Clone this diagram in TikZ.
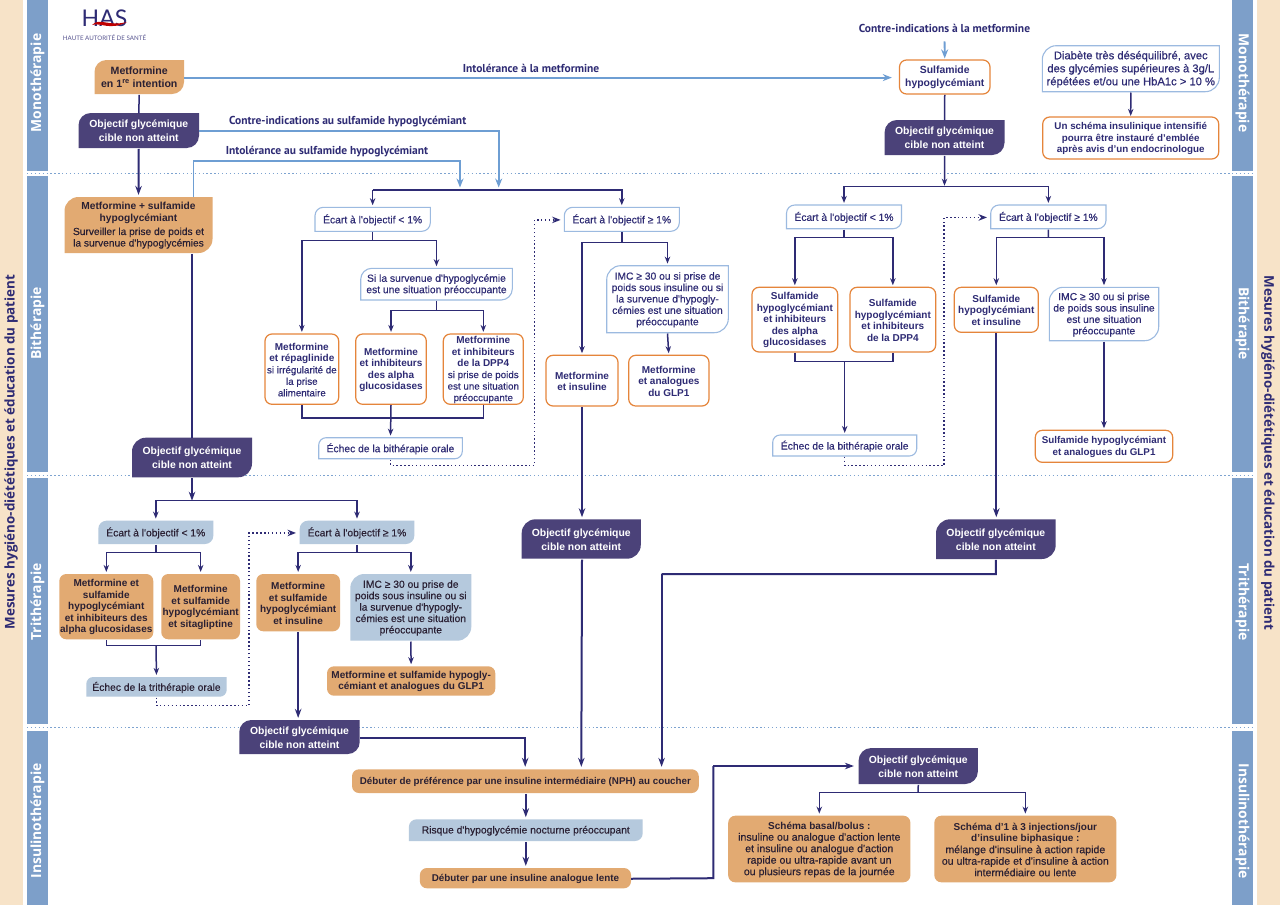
\documentclass[tikz,border=0pt]{standalone}
\usepackage{fontspec}
\setmainfont{Liberation Sans}
\newfontfamily\medf[FakeBold=0.4]{Liberation Sans}
\newfontfamily\bandf{Open Sans}
\newfontfamily\sidef{Open Sans}
\newfontfamily\narrowf{PT Sans}
\newfontfamily\logof{Lato}
\usetikzlibrary{arrows.meta,calc}
\definecolor{navy}{HTML}{2E2B74}
\definecolor{objfill}{HTML}{4B4279}
\definecolor{orangeF}{HTML}{E2AA72}
\definecolor{orangeB}{HTML}{E5853B}
\definecolor{lightB}{HTML}{9CBAE0}
\definecolor{blueF}{HTML}{B5C9DD}
\definecolor{bandC}{HTML}{7D9FC9}
\definecolor{beigeC}{HTML}{F7E3C8}
\definecolor{arrB}{HTML}{6E9ED3}
\definecolor{sepC}{HTML}{7DA3D0}
\definecolor{darkT}{HTML}{2A2033}
\tikzset{
  x=1pt,y=-1pt,
  txt/.style={inner sep=0pt,align=center,font=\fontsize{10.3}{11.4}\selectfont\medf},
  tnavy/.style={txt,text=navy},
  tnavyb/.style={txt,text=navy,font=\fontsize{10}{11.5}\selectfont\bfseries},
  tdark/.style={txt,text=darkT,font=\fontsize{10}{11.5}\selectfont\bfseries},
  tobj/.style={txt,text=white,font=\fontsize{10.4}{14}\selectfont\bfseries},
  sobj/.style={fill=objfill},
  sfill/.style={fill=orangeF},
  swhite/.style={fill=white,draw=lightB,line width=1.1pt},
  sblue/.style={fill=blueF},
  oframe/.style={draw=orangeB,line width=1.2pt,fill=white,rounded corners=7pt},
  ofill/.style={fill=orangeF,rounded corners=7pt},
  lnk/.style={draw=navy,line width=1.5pt},
  arr/.style={lnk,-{Stealth[length=7pt,width=5.5pt]},shorten >=2.5pt},
  arrT/.style={draw=navy,line width=2pt,-{Stealth[length=9pt,width=6.5pt]},shorten >=2.5pt},
  lnkT/.style={draw=navy,line width=2pt},
  barr/.style={draw=arrB,line width=1.8pt,-{Stealth[length=9pt,width=7pt]}},
  dotarr/.style={draw=navy,line width=1.5pt,dash pattern=on 1.4pt off 2.5pt,-{Stealth[length=8.5pt,width=6.5pt,sep=0pt]},shorten >=3.5pt},
  seplin/.style={draw=sepC,line width=1.4pt,dash pattern=on 1.3pt off 2.6pt},
  bandlab/.style={inner sep=0pt,text=white,font=\fontsize{13.9}{18}\selectfont\bandf\bfseries},
  sidelab/.style={inner sep=0pt,text=navy,font=\fontsize{13.4}{16}\selectfont\sidef\bfseries},
  lab/.style={inner sep=0pt,text=navy,font=\fontsize{11.5}{13}\selectfont\narrowf\bfseries},
}
% leaf box: #1 shape style, #2 text style, #3 name, #4-#7 x1 y1 x2 y2, #8 text
\def\leaf#1#2#3#4#5#6#7#8{%
  \pgfmathsetmacro\rr{min(14,0.35*(#7-#5))}%
  \pgfmathsetmacro\kk{0.45*\rr}%
  \path[#1] (#4,{#5+\rr}) .. controls (#4,{#5+\kk}) and ({#4+\kk},#5) .. ({#4+\rr},#5)
     -- (#6,#5) -- (#6,{#7-\rr}) .. controls (#6,{#7-\kk}) and ({#6-\kk},#7) .. ({#6-\rr},#7)
     -- (#4,#7) -- cycle;
  \node[#2,minimum width={(#6-#4)*1pt},minimum height={(#7-#5)*1pt}] (#3) at ({(#4+#6)/2},{(#5+#7)/2+0.6}) {#8};
}
% round box: #1 box style, #2 text style, #3 name, #4-#7 x1 y1 x2 y2, #8 text
\def\rbox#1#2#3#4#5#6#7#8{%
  \path[#1] (#4,#5) rectangle (#6,#7);
  \node[#2,minimum width={(#6-#4)*1pt},minimum height={(#7-#5)*1pt}] (#3) at ({(#4+#6)/2},{(#5+#7)/2+0.6}) {#8};
}
\newcommand{\nb}{\mdseries\fontsize{9.8}{11}\selectfont\medf}
\newcommand{\nbb}{\mdseries\fontsize{10.2}{11.3}\selectfont\medf}
\newcommand{\nbc}{\mdseries\fontsize{10.6}{11.3}\selectfont\medf}
\newcommand{\objt}{Objectif glycémique\\cible non atteint}
\begin{document}
\begin{tikzpicture}
\useasboundingbox (0,0) rectangle (1280,905);
\fill[white] (0,0) rectangle (1280,905);
% side stripes
\fill[beigeC] (0,0) rectangle (23,905);
\fill[beigeC] (1257,0) rectangle (1280,905);
\foreach \a/\b in {0/171,176/472,478/724,731/905}{
  \fill[bandC] (27,\a) rectangle (48,\b);
  \fill[bandC] (1232,\a) rectangle (1253,\b);
}
\foreach \y in {173.6,475.2,727.6}{\draw[seplin] (27,\y) -- (1253,\y);}
% side texts
\node[sidelab,rotate=90] (sl) at (11,452) {Mesures hygiéno-diététiques et éducation du patient};
\node[sidelab,rotate=-90] (sr) at (1268,453) {Mesures hygiéno-diététiques et éducation du patient};
\node[bandlab,rotate=90] (b1) at (37.5,83) {Monothérapie};
\node[bandlab,rotate=90] (b2) at (37.5,323.5) {Bithérapie};
\node[bandlab,rotate=90] (b3) at (37.5,602) {Trithérapie};
\node[bandlab,rotate=90] (b4) at (37.5,821) {Insulinothérapie};
\node[bandlab,rotate=-90] (b5) at (1242.5,83) {Monothérapie};
\node[bandlab,rotate=-90] (b6) at (1242.5,323.5) {Bithérapie};
\node[bandlab,rotate=-90] (b7) at (1242.5,602) {Trithérapie};
\node[bandlab,rotate=-90] (b8) at (1242.5,821) {Insulinothérapie};
% logo
\node[inner sep=0pt,text=navy,font=\fontsize{23}{24}\selectfont\logof] (has) at (104.5,18.5) {HAS};
\fill[red!75!black] (92,25) .. controls (100,17) and (108,27) .. (127,22) .. controls (110,31) and (100,22) .. (92,25) -- cycle;
\node[inner sep=0pt,text=navy!80,font=\fontsize{6.2}{7}\selectfont\logof] (hast) at (104.5,38) {HAUTE AUTORITÉ DE SANTÉ};
% ===== monotherapy
\leaf{sfill}{tdark,font=\fontsize{10.6}{13}\selectfont\bfseries}{met}{94.5}{60}{184}{94}{Metformine\\en 1\textsuperscript{re} intention}
\leaf{sobj}{tobj}{obj1}{78.5}{113}{199}{148}{\objt}
\leaf{sfill}{tdark}{mss}{64.5}{197}{212.5}{253}{\fontsize{10.2}{12.5}\selectfont Metformine + sulfamide\\\fontsize{10.2}{12.5}\selectfont hypoglycémiant\\[2pt]\nbb Surveiller la prise de poids et\\\nbb la survenue d'hypoglycémies}
\rbox{oframe}{tnavyb,font=\fontsize{10.4}{13}\selectfont\bfseries}{sulf}{899.5}{60}{990}{94}{Sulfamide\\hypoglycémiant}
\leaf{sobj}{tobj}{obj2}{884.6}{120}{1004.5}{155}{\objt}
\leaf{swhite}{tnavy,font=\fontsize{11.2}{13}\selectfont\medf}{diab}{1042.3}{45.7}{1219.3}{91.7}{Diabète très déséquilibré, avec\\des glycémies supérieures à 3g/L\\répétées et/ou une HbA1c > 10 \%}
\rbox{oframe}{tnavyb,font=\fontsize{9.8}{11.5}\selectfont\bfseries}{ints}{1042.7}{117}{1218.7}{159}{Un schéma insulinique intensifié\\pourra être instauré d'emblée\\après avis d'un endocrinologue}
\node[lab] (lci) at (944.5,28) {Contre-indications à la metformine};
\node[lab] (lim) at (531,68.5) {Intolérance à la metformine};
\node[lab] (lcs) at (347.7,122) {Contre-indications au sulfamide hypoglycémiant};
\node[lab] (lis) at (327,151.5) {Intolérance au sulfamide hypoglycémiant};
% ===== bitherapy, middle
\leaf{swhite}{tnavy}{l1}{315}{207.3}{430.3}{231.3}{Écart à l'objectif < 1\%}
\leaf{swhite}{tnavy}{l2}{564.3}{207.3}{679.3}{231.3}{Écart à l'objectif ≥ 1\%}
\leaf{swhite}{tnavy}{si}{360.7}{268.3}{512.3}{300}{Si la survenue d'hypoglycémie\\est une situation préoccupante}
\rbox{oframe}{tnavyb}{mr}{265}{334}{338.7}{404.3}{Metformine\\et répaglinide\\\nb si irrégularité de\\\nb la prise\\\nb alimentaire}
\rbox{oframe}{tnavyb}{ma}{355.7}{334}{426.3}{404.3}{Metformine\\et inhibiteurs\\des alpha\\glucosidases}
\rbox{oframe}{tnavyb}{md}{443.3}{334}{523.3}{404.3}{Metformine\\et inhibiteurs\\de la DPP4\\\nb si prise de poids\\\nb est une situation\\\nb préoccupante}
\leaf{swhite}{tnavy}{el}{318.7}{437.7}{462.3}{458.7}{Échec de la bithérapie orale}
\leaf{swhite}{tnavy}{imcm}{606.7}{265.7}{728.3}{332.7}{IMC ≥ 30 ou si prise de\\poids sous insuline ou si\\la survenue d'hypogly-\\cémies est une situation\\préoccupante}
\rbox{oframe}{tnavyb}{mi}{546}{355.3}{618}{406}{Metformine\\et insuline}
\rbox{oframe}{tnavyb}{mg}{628.7}{355.3}{709}{406}{Metformine\\et analogues\\du GLP1}
% ===== bitherapy, right
\leaf{swhite}{tnavy}{r1}{786.5}{205}{901.5}{228.7}{Écart à l'objectif < 1\%}
\leaf{swhite}{tnavy}{r2}{990.7}{205}{1106}{228.7}{Écart à l'objectif ≥ 1\%}
\rbox{oframe}{tnavyb}{sa}{752}{287.3}{837.7}{352}{Sulfamide\\hypoglycémiant\\et inhibiteurs\\des alpha\\glucosidases}
\rbox{oframe}{tnavyb}{sd}{850}{287.3}{935.7}{352}{Sulfamide\\hypoglycémiant\\et inhibiteurs\\de la DPP4}
\rbox{oframe}{tnavyb}{si2}{954.3}{287.3}{1038.3}{332.3}{Sulfamide\\hypoglycémiant\\et insuline}
\leaf{swhite}{tnavy}{imcr}{1049.3}{287.3}{1158.7}{340.7}{IMC ≥ 30 ou si prise\\de poids sous insuline\\est une situation\\préoccupante}
\leaf{swhite}{tnavy}{er}{772.7}{435}{916.7}{456}{Échec de la bithérapie orale}
\rbox{oframe}{tnavyb,font=\fontsize{9.8}{11.5}\selectfont\bfseries}{sg}{1035.3}{430.3}{1172.7}{462.3}{Sulfamide hypoglycémiant\\et analogues du GLP1}
% ===== objectives
\leaf{sobj}{tobj}{objt}{132}{437.7}{252}{477.3}{\objt}
\leaf{sobj}{tobj}{obj3}{521.7}{519.3}{640.8}{558.7}{\objt}
\leaf{sobj}{tobj}{obj4}{936}{519.3}{1055.7}{559}{\objt}
\leaf{sobj}{tobj}{obj5}{239.3}{720}{359.7}{754}{\objt}
\leaf{sobj}{tobj}{obj6}{858.6}{748}{977.9}{784}{\objt}
% ===== tritherapy
\leaf{sblue}{tnavy,text=darkT}{t1}{98.3}{520.7}{213.3}{544}{Écart à l'objectif < 1\%}
\leaf{sblue}{tnavy,text=darkT}{t2}{299.7}{520.7}{414.3}{544}{Écart à l'objectif ≥ 1\%}
\rbox{ofill}{tdark}{ta}{59.3}{574}{153.3}{639.3}{Metformine et\\sulfamide\\hypoglycémiant\\et inhibiteurs des\\alpha glucosidases}
\rbox{ofill}{tdark}{ts}{161.3}{574}{240}{639.3}{Metformine\\et sulfamide\\hypoglycémiant\\et sitagliptine}
\rbox{ofill}{tdark}{ti}{256.3}{574}{340}{631.3}{Metformine\\et sulfamide\\hypoglycémiant\\et insuline}
\leaf{sblue}{tnavy,text=darkT}{imct}{350.3}{574}{471.3}{640.7}{IMC ≥ 30 ou prise de\\poids sous insuline ou si\\la survenue d'hypogly-\\cémies est une situation\\préoccupante}
\leaf{sblue}{tnavy,text=darkT}{et}{86.3}{677}{226.7}{696.7}{Échec de la trithérapie orale}
\rbox{ofill}{tdark}{tg}{327}{666.3}{495.3}{695.7}{Metformine et sulfamide hypogly-\\cémiant et analogues du GLP1}
% ===== insulin
\rbox{ofill}{tdark,font=\fontsize{9.8}{11.5}\selectfont\bfseries}{deb}{352}{769.3}{698.8}{793}{Débuter de préférence par une insuline intermédiaire (NPH) au coucher}
\leaf{sblue}{tnavy,text=darkT}{ris}{408.9}{819.3}{642.7}{841}{Risque d'hypoglycémie nocturne préoccupant}
\rbox{ofill}{tdark,font=\fontsize{9.85}{11.5}\selectfont\bfseries}{dl}{419.9}{868}{631}{888.3}{Débuter par une insuline analogue lente}
\rbox{ofill}{tdark}{sb}{728.2}{815.7}{910.4}{882.3}{Schéma basal/bolus :\\\nbc insuline ou analogue d'action lente\\\nbc et insuline ou analogue d'action\\\nbc rapide ou ultra-rapide avant un\\\nbc ou plusieurs repas de la journée}
\rbox{ofill}{tdark}{s13}{934.3}{815.7}{1116.4}{882.3}{Schéma d'1 à 3 injections/jour\\d'insuline biphasique :\\\nbc mélange d'insuline à action rapide\\\nbc ou ultra-rapide et d'insuline à action\\\nbc intermédiaire ou lente}
% ===== junction coordinates
\coordinate (tipc) at (498.7,187.5);
\coordinate (tipi) at (460,187.5);
\coordinate (hi) at (460,160.7);
\coordinate (bj) at (372.65,190);
\coordinate (oj) at (944.5,186.7);
\coordinate (jl1) at (372.65,240.3);
\coordinate (jsi) at (436.5,310.3);
\coordinate (jl2) at (621.8,242.7);
\coordinate (jr1) at (844,237.7);
\coordinate (jr2) at (1048.35,237.7);
\coordinate (jm) at (390.5,418);
\coordinate (jmr) at (844.7,361.7);
\coordinate (jt) at (192,500.7);
\coordinate (jt1) at (155.8,552.7);
\coordinate (jt2) at (357,552.7);
\coordinate (jtm) at (156,645.7);
\coordinate (j4) at (995.85,574);
\coordinate (j4b) at (661.6,574);
\coordinate (j4c) at (661.6,769.3);
\coordinate (j3c) at (581.3,769.3);
\coordinate (j5c) at (525.2,769.3);
\coordinate (j6) at (713.3,878.2);
\coordinate (j6b) at (713.3,766);
\coordinate (j7) at (918.2,792.7);
\coordinate (d1) at (534.7,465.3);
\coordinate (d2) at (944,465.7);
\coordinate (d3) at (249,705.7);
% ===== light blue connectors
\draw[barr,shorten >=7.5pt] (met.east) -- (sulf.west);
\draw[barr,shorten <=9pt,shorten >=2pt] (lci.south) -- (sulf.north);
\draw[barr] (obj1.east) -| (tipc);
\draw[barr] ([xshift=55pt]mss.north) |- (hi) -- (tipi);
% ===== navy connectors
\draw[lnk] (met.south) -- (obj1.north);
\draw[arrT] (obj1.south) -- (mss.north);
\draw[lnk] (sulf.south) -- (obj2.north);
\draw[arr,shorten >=1pt] (obj2.south) -- (oj);
\draw[arr,shorten >=1.5pt] (diab.south) -- (ints.north);
\draw[arr] (oj) -| (r1.north);
\draw[arr] (oj) -| (r2.north);
\draw[arr] (bj) -- (l1.north);
\draw[arr] (bj) -| (l2.north);
\draw[lnk] (l1.south) -- (jl1);
\draw[arr] (jl1) -| (mr.north);
\draw[arr] (jl1) -| (si.north);
\draw[lnk] (si.south) -- (jsi);
\draw[arr] (jsi) -| (ma.north);
\draw[arr] (jsi) -| (md.north);
\draw[lnk] (mr.south) |- (jm);
\draw[lnk] (md.south) |- (jm);
\draw[arr] (ma.south) -- (el.north);
\draw[lnk] (l2.south) -- (jl2);
\draw[arr] (jl2) -| (mi.north);
\draw[arr] (jl2) -| (imcm.north);
\draw[arr] (imcm.south) -- (mg.north);
\draw[arrT] (mi.south) -- (mi.south |- obj3.north);
\draw[lnk] (r1.south) -- (jr1);
\draw[arr] (jr1) -| (sa.north);
\draw[arr] (jr1) -| (sd.north);
\draw[lnk] (r2.south) -- (jr2);
\draw[arr] (jr2) -| (si2.north);
\draw[arr] (jr2) -| (imcr.north);
\draw[lnk] (sa.south) |- (jmr);
\draw[lnk] (sd.south) |- (jmr);
\draw[arr] (jmr) -- (er.north);
\draw[arrT] (si2.south) -- (si2.south |- obj4.north);
\draw[arr] (imcr.south) -- (sg.north);
% tritherapy
\draw[lnkT] (mss.south -| objt.north) -- (objt.north);
\draw[arrT,shorten >=0pt] (objt.south) -- (jt);
\draw[arr] (jt) -| (t1.north);
\draw[arr] (jt) -| (t2.north);
\draw[lnk] (t1.south) -- (jt1);
\draw[arr] (jt1) -| (ta.north);
\draw[arr] (jt1) -| (ts.north);
\draw[lnk] (t2.south) -- (jt2);
\draw[arr] (jt2) -| (ti.north);
\draw[arr] (jt2) -| (imct.north);
\draw[lnk] (ta.south) |- (jtm);
\draw[lnk] (ts.south) |- (jtm);
\draw[arr] (jtm) -- (et.north);
\draw[arr] (imct.south) -- (tg.north);
\draw[arrT] (ti.south) -- (ti.south |- obj5.north);
% insulin
\draw[arrT] (obj3.south -| mi.south) -- (j3c);
\draw[lnkT] (obj4.south) -- (j4) -- (j4b);
\draw[arrT] (j4b) -- (j4c);
\draw[arrT] (obj5.east) -| (j5c);
\draw[arrT] (deb.south -| ris.north) -- (ris.north);
\draw[arrT] (ris.south) -- (ris.south |- dl.north);
\draw[lnkT] (dl.east) -- (j6) -- (j6b);
\draw[arrT,shorten >=4.5pt] (j6b) -- (obj6.west |- j6b);
\draw[lnk] (obj6.south) -- (j7);
\draw[arr] (j7) -| (sb.north);
\draw[arr] (j7) -| (s13.north);
% dotted feedback arrows
\draw[dotarr] (el.south) |- (d1) |- (l2.west);
\draw[dotarr] (er.south) |- (d2) |- (r2.west);
\draw[dotarr] (et.south) |- (d3) |- (t2.west);
\end{tikzpicture}
\end{document}
